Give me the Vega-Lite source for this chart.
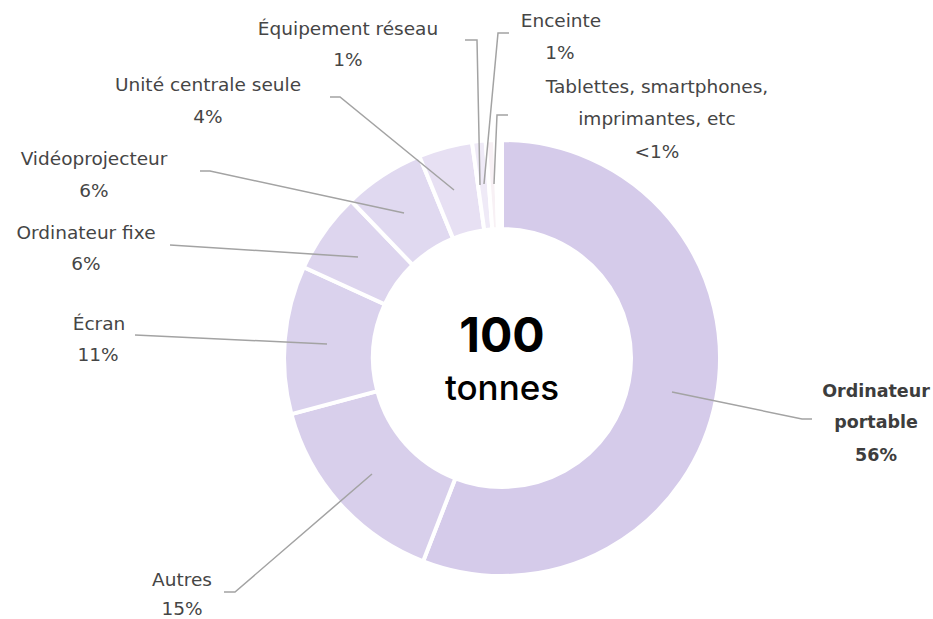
{
  "$schema": "https://vega.github.io/schema/vega-lite/v6.json",
  "width": 933,
  "height": 619,
  "padding": 0,
  "autosize": {"type": "none"},
  "background": "#ffffff",
  "config": {"view": {"stroke": null}},
  "datasets": {
    "slices": [
      {"cat": "Ordinateur portable", "value": 56, "ord": 1, "fill": "#d5cbea"},
      {"cat": "Autres", "value": 15, "ord": 2, "fill": "#d8cfeb"},
      {"cat": "Écran", "value": 11, "ord": 3, "fill": "#dad2ed"},
      {"cat": "Ordinateur fixe", "value": 6, "ord": 4, "fill": "#ddd5ee"},
      {"cat": "Vidéoprojecteur", "value": 6, "ord": 5, "fill": "#e0d9f0"},
      {"cat": "Unité centrale seule", "value": 4, "ord": 6, "fill": "#e7e0f3"},
      {"cat": "Équipement réseau", "value": 1, "ord": 7, "fill": "#efeaf7"},
      {"cat": "Enceinte", "value": 0.7, "ord": 8, "fill": "#f8f1f5"},
      {"cat": "Tablettes, smartphones, imprimantes, etc", "value": 0.5, "ord": 9, "fill": "#ffffff"}
    ],
    "leaders": [
      {"g": "portable", "i": 1, "x": 170, "y": -34},
      {"g": "portable", "i": 2, "x": 300, "y": -61},
      {"g": "portable", "i": 3, "x": 310, "y": -61},
      {"g": "autres", "i": 1, "x": -130, "y": -116},
      {"g": "autres", "i": 2, "x": -267, "y": -234},
      {"g": "autres", "i": 3, "x": -278, "y": -234},
      {"g": "ecran", "i": 1, "x": -175, "y": 14},
      {"g": "ecran", "i": 2, "x": -367, "y": 23},
      {"g": "fixe", "i": 1, "x": -144, "y": 101},
      {"g": "fixe", "i": 2, "x": -332, "y": 113},
      {"g": "video", "i": 1, "x": -98, "y": 145},
      {"g": "video", "i": 2, "x": -292, "y": 187},
      {"g": "video", "i": 3, "x": -302, "y": 187},
      {"g": "uc", "i": 1, "x": -48, "y": 168},
      {"g": "uc", "i": 2, "x": -162, "y": 261},
      {"g": "uc", "i": 3, "x": -172, "y": 261},
      {"g": "reseau", "i": 1, "x": -22, "y": 173},
      {"g": "reseau", "i": 2, "x": -25, "y": 318},
      {"g": "reseau", "i": 3, "x": -37, "y": 318},
      {"g": "enceinte", "i": 1, "x": -18, "y": 174},
      {"g": "enceinte", "i": 2, "x": -4, "y": 325},
      {"g": "enceinte", "i": 3, "x": 7, "y": 325},
      {"g": "tablettes", "i": 1, "x": -8, "y": 174},
      {"g": "tablettes", "i": 2, "x": -5, "y": 243},
      {"g": "tablettes", "i": 3, "x": 6, "y": 243}
    ],
    "labels": [
      {"kind": "normal", "txt": "Équipement réseau", "x": -154, "y": 329},
      {"kind": "normal", "txt": "1%", "x": -154, "y": 298},
      {"kind": "normal", "txt": "Enceinte", "x": 59, "y": 337},
      {"kind": "normal", "txt": "1%", "x": 58, "y": 305},
      {"kind": "normal", "txt": "Tablettes, smartphones,", "x": 155, "y": 271},
      {"kind": "normal", "txt": "imprimantes, etc", "x": 155, "y": 239},
      {"kind": "normal", "txt": "<1%", "x": 155, "y": 206},
      {"kind": "normal", "txt": "Unité centrale seule", "x": -294, "y": 273},
      {"kind": "normal", "txt": "4%", "x": -294, "y": 241},
      {"kind": "normal", "txt": "Vidéoprojecteur", "x": -408, "y": 199},
      {"kind": "normal", "txt": "6%", "x": -408, "y": 167},
      {"kind": "normal", "txt": "Ordinateur fixe", "x": -416, "y": 125},
      {"kind": "normal", "txt": "6%", "x": -416, "y": 94},
      {"kind": "normal", "txt": "Écran", "x": -403, "y": 34},
      {"kind": "normal", "txt": "11%", "x": -404, "y": 3},
      {"kind": "normal", "txt": "Autres", "x": -320, "y": -222},
      {"kind": "normal", "txt": "15%", "x": -320, "y": -251},
      {"kind": "bold", "txt": "Ordinateur", "x": 374, "y": -34},
      {"kind": "bold", "txt": "portable", "x": 374, "y": -65},
      {"kind": "bold", "txt": "56%", "x": 374, "y": -98},
      {"kind": "big", "txt": "100", "x": 0, "y": 20},
      {"kind": "unit", "txt": "tonnes", "x": 0, "y": -31}
    ]
  },
  "layer": [
    {
      "data": {"name": "slices"},
      "mark": {"type": "arc", "outerRadius": 218, "innerRadius": 129, "stroke": "#ffffff", "strokeWidth": 4},
      "encoding": {
        "x": {"datum": 0, "type": "quantitative", "scale": {"domain": [-502, 431], "nice": false, "zero": false}, "axis": null},
        "y": {"datum": 0, "type": "quantitative", "scale": {"domain": [-261, 358], "nice": false, "zero": false}, "axis": null},
        "theta": {"field": "value", "type": "quantitative", "stack": true},
        "order": {"field": "ord", "type": "quantitative"},
        "color": {"field": "fill", "type": "nominal", "scale": null, "legend": null}
      }
    },
    {
      "data": {"name": "leaders"},
      "mark": {"type": "line", "color": "#a3a3a3", "strokeWidth": 1.5, "strokeJoin": "miter"},
      "encoding": {
        "x": {"field": "x", "type": "quantitative", "axis": null},
        "y": {"field": "y", "type": "quantitative", "axis": null},
        "detail": {"field": "g", "type": "nominal"},
        "order": {"field": "i", "type": "quantitative"}
      }
    },
    {
      "data": {"name": "labels"},
      "transform": [{"filter": "datum.kind === 'normal'"}],
      "mark": {"type": "text", "font": "DejaVu Sans", "fontSize": 18.5, "color": "#454545", "align": "center", "baseline": "middle"},
      "encoding": {
        "x": {"field": "x", "type": "quantitative", "axis": null},
        "y": {"field": "y", "type": "quantitative", "axis": null},
        "text": {"field": "txt"}
      }
    },
    {
      "data": {"name": "labels"},
      "transform": [{"filter": "datum.kind === 'bold'"}],
      "mark": {"type": "text", "font": "DejaVu Sans", "fontSize": 17.5, "fontWeight": "bold", "color": "#3d3d3d", "align": "center", "baseline": "middle"},
      "encoding": {
        "x": {"field": "x", "type": "quantitative", "axis": null},
        "y": {"field": "y", "type": "quantitative", "axis": null},
        "text": {"field": "txt"}
      }
    },
    {
      "data": {"name": "labels"},
      "transform": [{"filter": "datum.kind === 'big'"}],
      "mark": {"type": "text", "font": "Inter", "fontSize": 48, "fontWeight": "bold", "color": "#000000", "align": "center", "baseline": "middle"},
      "encoding": {
        "x": {"field": "x", "type": "quantitative", "axis": null},
        "y": {"field": "y", "type": "quantitative", "axis": null},
        "text": {"field": "txt"}
      }
    },
    {
      "data": {"name": "labels"},
      "transform": [{"filter": "datum.kind === 'unit'"}],
      "mark": {"type": "text", "font": "Inter", "fontSize": 35, "fontWeight": 500, "color": "#000000", "align": "center", "baseline": "middle"},
      "encoding": {
        "x": {"field": "x", "type": "quantitative", "axis": null},
        "y": {"field": "y", "type": "quantitative", "axis": null},
        "text": {"field": "txt"}
      }
    }
  ]
}
